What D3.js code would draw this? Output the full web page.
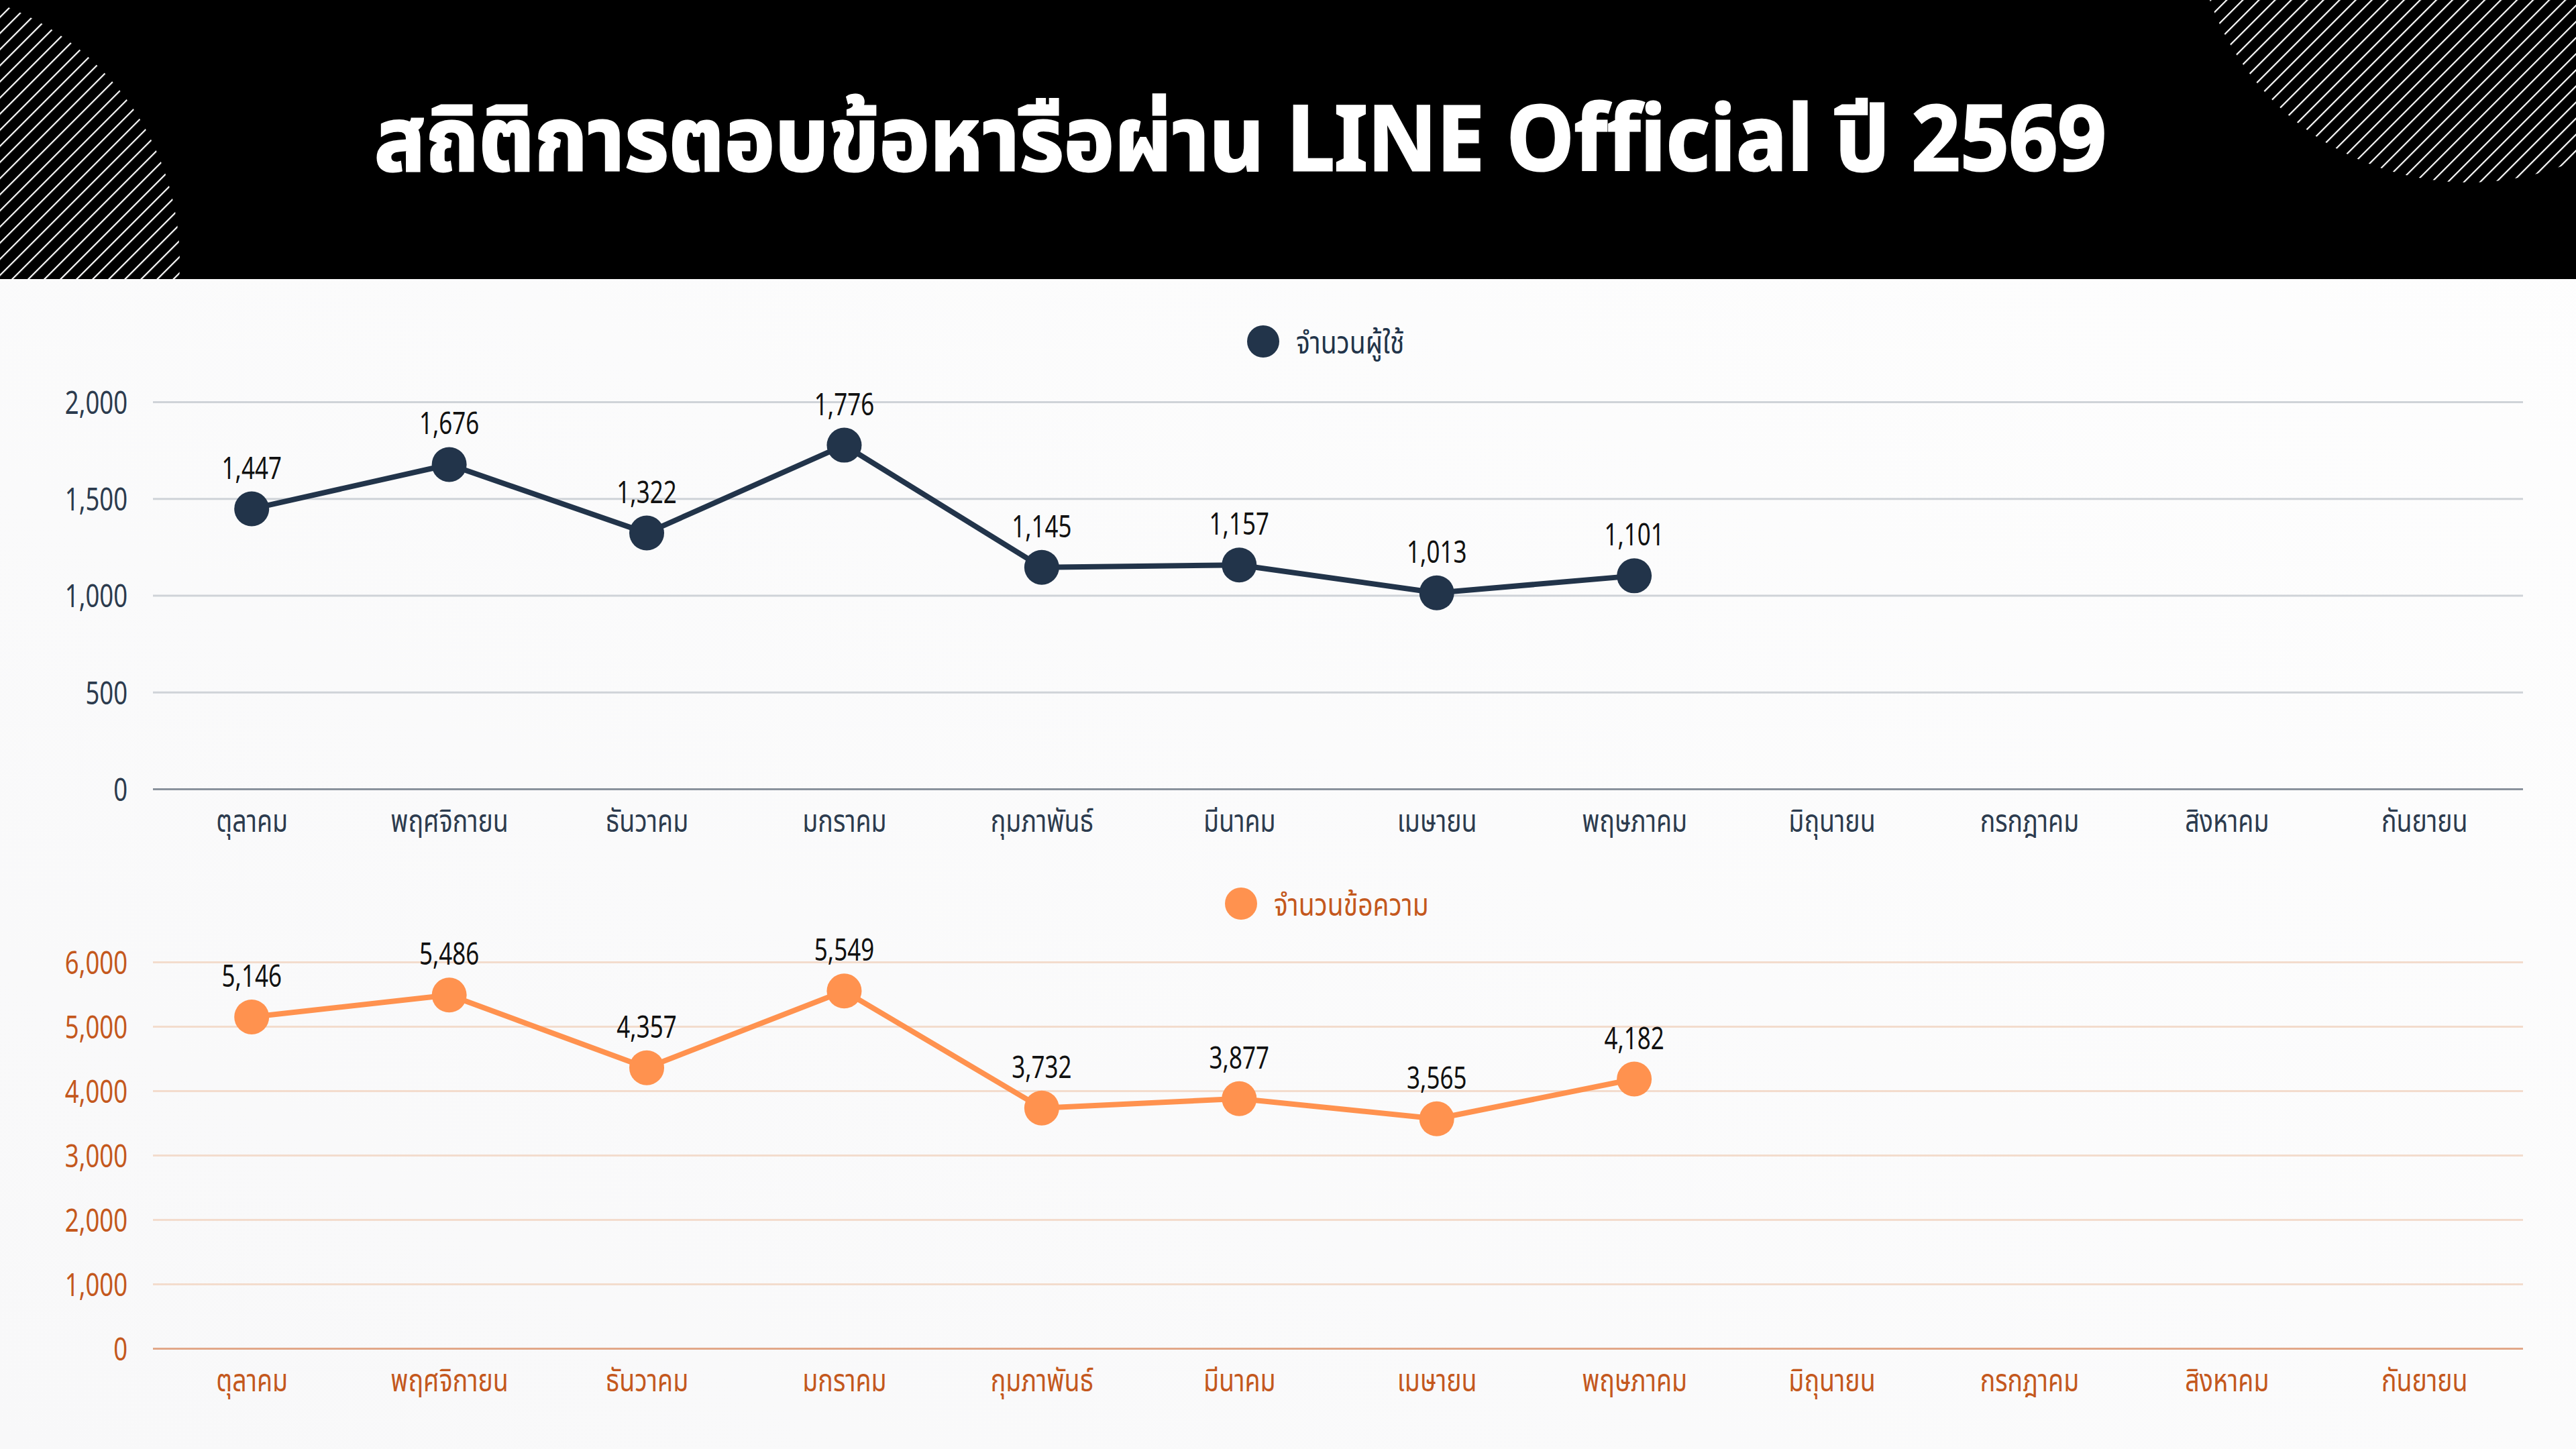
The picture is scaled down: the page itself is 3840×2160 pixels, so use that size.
<!DOCTYPE html>
<html>
<head>
<meta charset="utf-8">
<script src="https://cdn.jsdelivr.net/npm/d3@7"></script>
<style>
  html, body { margin: 0; padding: 0; background: #fcfcfc; }
  svg { display: block; }
  text { font-family: "Noto Sans Thai", "Noto Sans", "DejaVu Sans", sans-serif; }
</style>
</head>
<body>
<svg id="chart"></svg>
<script>
const months = ['ตุลาคม', 'พฤศจิกายน', 'ธันวาคม', 'มกราคม', 'กุมภาพันธ์', 'มีนาคม',
  'เมษายน', 'พฤษภาคม', 'มิถุนายน', 'กรกฎาคม', 'สิงหาคม', 'กันยายน'];
const users = [1447, 1676, 1322, 1776, 1145, 1157, 1013, 1101];
const messages = [5146, 5486, 4357, 5549, 3732, 3877, 3565, 4182];
const userTicks = [0, 500, 1000, 1500, 2000];
const messageTicks = [0, 1000, 2000, 3000, 4000, 5000, 6000];

const W = 3840, H = 2160;
const svg = d3.select('#chart').attr('width', W).attr('height', H);
const defs = svg.append('defs');

// background
const bg = defs.append('linearGradient').attr('id', 'bg')
  .attr('x1', 0).attr('y1', 1).attr('x2', 1).attr('y2', 0);
bg.append('stop').attr('offset', '0%').attr('stop-color', '#f8f8f9');
bg.append('stop').attr('offset', '100%').attr('stop-color', '#fefefe');
svg.append('rect').attr('width', W).attr('height', H).attr('fill', 'url(#bg)');

// header band
svg.append('rect').attr('width', W).attr('height', 416).attr('fill', '#000');

const hatch = defs.append('pattern').attr('id', 'hatch')
  .attr('patternUnits', 'userSpaceOnUse')
  .attr('width', 17).attr('height', 17)
  .attr('patternTransform', 'rotate(45)');
hatch.append('line').attr('x1', 1).attr('y1', 0).attr('x2', 1).attr('y2', 17)
  .attr('stroke', '#fff').attr('stroke-width', 2.4);

defs.append('clipPath').attr('id', 'headClip')
  .append('rect').attr('width', W).attr('height', 416);

const deco = svg.append('g').attr('clip-path', 'url(#headClip)');
deco.append('circle').attr('cx', -141).attr('cy', 390).attr('r', 409).attr('fill', 'url(#hatch)');
deco.append('circle').attr('cx', 3680).attr('cy', -138).attr('r', 410).attr('fill', 'url(#hatch)');

const title = svg.append('text')
  .attr('x', 1849).attr('y', 254)
  .attr('text-anchor', 'middle')
  .attr('fill', '#fff')
  .attr('stroke', '#fff')
  .attr('stroke-width', 3)
  .style('font-size', '134px')
  .style('font-weight', 700)
  .text('สถิติการตอบข้อหารือผ่าน LINE Official ปี 2569');
// squeeze to the reference width
const tw = title.node().getComputedTextLength();
const sx = 2582 / tw;
title.attr('transform', `translate(1849,0) scale(${sx},1) translate(-1849,0)`);

const x = d3.scalePoint().domain(months).range([228, 3761]).padding(0.5);

function drawChart(opt) {
  const y = d3.scaleLinear().domain(opt.domain).range(opt.range);
  const g = svg.append('g');

  // y axis + gridlines
  const yAxis = g.append('g')
    .attr('transform', 'translate(228,0)')
    .call(d3.axisLeft(y).tickValues(opt.ticks).tickSize(-(3761 - 228)).tickPadding(38)
      .tickFormat(d3.format(',')));
  yAxis.select('.domain').remove();
  yAxis.selectAll('.tick line')
    .attr('stroke', opt.grid).attr('stroke-width', 3);
  yAxis.selectAll('.tick').filter(d => d === 0).select('line')
    .attr('stroke', opt.base).attr('stroke-width', 3);
  yAxis.selectAll('.tick text')
    .attr('fill', opt.label)
    .attr('dy', '0.36em')
    .style('font-size', '48px')
    .attr('transform', 'scale(0.76,1)')
    .attr('x', -38 / 0.76);

  // x axis labels
  const xAxis = g.append('g')
    .attr('transform', `translate(0,${opt.range[0]})`)
    .call(d3.axisBottom(x).tickSize(0).tickPadding(31));
  xAxis.select('.domain').remove();
  xAxis.selectAll('.tick text')
    .attr('fill', opt.label)
    .style('font-size', '47px')
    .attr('transform', 'scale(0.8,1)');

  // line
  const line = d3.line().x((d, i) => x(months[i])).y(d => y(d));
  g.append('path')
    .datum(opt.values)
    .attr('d', line)
    .attr('fill', 'none')
    .attr('stroke', opt.color)
    .attr('stroke-width', 8)
    .attr('stroke-linejoin', 'round');

  g.selectAll('.dot')
    .data(opt.values)
    .enter()
    .append('circle')
    .attr('cx', (d, i) => x(months[i]))
    .attr('cy', d => y(d))
    .attr('r', 26)
    .attr('fill', opt.color);

  g.selectAll('.val')
    .data(opt.values)
    .enter()
    .append('text')
    .attr('text-anchor', 'middle')
    .attr('transform', (d, i) => `translate(${x(months[i])},${y(d) - 45}) scale(0.76,1)`)
    .attr('fill', '#111')
    .style('font-size', '46px')
    .text(d => d3.format(',')(d));

  // legend
  const lg = g.append('g').attr('transform', `translate(${opt.legend[0]},${opt.legend[1]})`);
  lg.append('circle').attr('r', 24).attr('fill', opt.color);
  lg.append('text')
    .attr('y', 18)
    .attr('fill', opt.legendText)
    .style('font-size', '46px')
    .attr('transform', 'scale(0.85,1)')
    .attr('x', 49 / 0.85)
    .text(opt.name);
}

drawChart({
  name: 'จำนวนผู้ใช้',
  values: users,
  domain: [0, 2000],
  range: [1176, 599],
  ticks: userTicks,
  color: '#22344a',
  grid: '#cfd3d8',
  base: '#8a929d',
  label: '#2c3b4e',
  legendText: '#22344a',
  legend: [1883, 509]
});

drawChart({
  name: 'จำนวนข้อความ',
  values: messages,
  domain: [0, 6000],
  range: [2010, 1434],
  ticks: messageTicks,
  color: '#ff924f',
  grid: '#f3dccd',
  base: '#e2a889',
  label: '#c4581d',
  legendText: '#c4581d',
  legend: [1850, 1347]
});
</script>
</body>
</html>
